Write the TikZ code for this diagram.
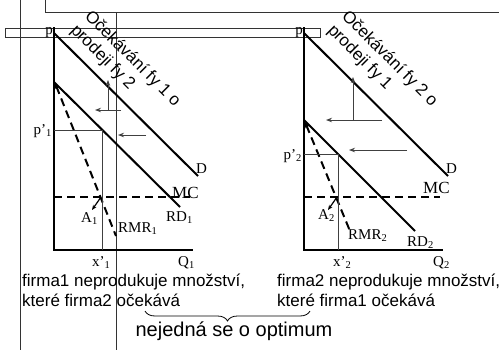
\documentclass[tikz,border=0pt]{standalone}
\usepackage{fontspec}
\setmainfont{Liberation Serif}
\newfontfamily\czsans{Liberation Sans}
\usepackage{tikz}
\usetikzlibrary{arrows.meta}
\usetikzlibrary{decorations.pathreplacing}
\definecolor{arrowgray}{HTML}{404040}
\tikzset{curve/.style={line width=2pt},
dashcurve/.style={line width=2pt,dash pattern=on 8pt off 5pt},
helpline/.style={line width=0.8pt,black!75},
shiftarrow/.style={arrowgray,line width=0.9pt,-{Stealth[length=6pt,width=4.5pt]}},
lab/.style={font=\fontsize{15}{17}\selectfont,inner sep=0pt},
txt/.style={font=\czsans\fontsize{17}{20}\selectfont,inner sep=0pt,align=left},
framelines/.style={line width=0.7pt,black!80}}

\begin{document}
\begin{tikzpicture}[x=1pt,y=-1pt]
\useasboundingbox(0,0)rectangle(499,349);
\draw[framelines](45,-2)rectangle(502,12);
\draw[framelines](5,28)rectangle(320,37);
\draw[framelines](20,-2)--(20,351);
\draw[framelines](116,12)--(116,351);

% firma 1
\coordinate(top1)at(54,27);\coordinate(O1)at(54,250);\coordinate(Q1end)at(193,250);
\coordinate(Da1)at(54,33);\coordinate(Db1)at(198,176);
\coordinate(RDa1)at(54,82);\coordinate(RDb1)at(180,207);
\coordinate(MCa1)at(54,197);\coordinate(MCb1)at(190,197);
\coordinate(RMRa1)at(55,83);\coordinate(RMRb1)at(116,236);
\coordinate(E1)at(101,197);\coordinate(A1end)at(92,210);
\coordinate(pa1)at(54,130);\coordinate(pb1)at(102,130);\coordinate(xa1)at(102,250);
\draw[curve](top1)--(O1)--(Q1end);
\draw[curve](Da1)--(Db1);
\draw[curve](RDa1)--(RDb1);
\draw[dashcurve](MCa1)--(MCb1);
\draw[dashcurve,{Stealth[length=6pt,width=5pt]}-](RMRa1)--(RMRb1);
\draw[line width=1.2pt,-{Stealth[length=5pt,width=4pt]}](E1)--(A1end);
\draw[helpline](pa1)--(pb1)--(xa1);
\coordinate(va1)at(108,110);\coordinate(vb1)at(108,80);
\coordinate(ha1)at(121,110);\coordinate(hb1)at(95,110);
\coordinate(ka1)at(146,135);\coordinate(kb1)at(118,135);
\draw[shiftarrow](va1)--(vb1);
\draw[shiftarrow](ha1)--(hb1);
\draw[shiftarrow](ka1)--(kb1);
\node[lab,anchor=base east](p1)at(53,34){p};
\node[lab,anchor=east](pc1)at(52,131){p'\textsubscript{1}};
\node[lab,anchor=base west](D1)at(196,173){D};
\node[lab,font=\fontsize{17}{19}\selectfont,anchor=base west](MC1)at(172,198){MC};
\node[lab,anchor=base west](RD1)at(166,221){RD\textsubscript{1}};
\node[lab,anchor=base west](A1)at(81,222){A\textsubscript{1}};
\node[lab,anchor=base west](RMR1)at(118,232){RMR\textsubscript{1}};
\node[lab,anchor=base west](x1)at(92,266){x'\textsubscript{1}};
\node[lab,anchor=base west](Q1)at(178,266){Q\textsubscript{1}};
\node[txt,rotate=-45,anchor=north west](oc1)at(93,8){Očekávání fy 1 o\\prodeji fy 2};

% firma 2
\coordinate(top2)at(304,27);\coordinate(O2)at(304,250);\coordinate(Q2end)at(443,250);
\coordinate(Da2)at(304,33);\coordinate(Db2)at(448,176);
\coordinate(RDa2)at(304,120);\coordinate(RDb2)at(415,231);
\coordinate(MCa2)at(304,197);\coordinate(MCb2)at(440,197);
\coordinate(RMRa2)at(305,122);\coordinate(RMRb2)at(350,231);
\coordinate(E2)at(337,197);\coordinate(A2end)at(328,210);
\coordinate(pa2)at(304,154);\coordinate(pb2)at(338,154);\coordinate(xa2)at(338,250);
\draw[curve](top2)--(O2)--(Q2end);
\draw[curve](Da2)--(Db2);
\draw[curve](RDa2)--(RDb2);
\draw[dashcurve](MCa2)--(MCb2);
\draw[dashcurve,{Stealth[length=6pt,width=5pt]}-](RMRa2)--(RMRb2);
\draw[line width=1.2pt,-{Stealth[length=5pt,width=4pt]}](E2)--(A2end);
\draw[helpline](pa2)--(pb2)--(xa2);
\coordinate(va2)at(353,120);\coordinate(vb2)at(353,77);
\coordinate(ha2)at(382,120);\coordinate(hb2)at(326,120);
\coordinate(ka2)at(407,150);\coordinate(kb2)at(349,150);
\draw[shiftarrow](va2)--(vb2);
\draw[shiftarrow](ha2)--(hb2);
\draw[shiftarrow](ka2)--(kb2);
\node[lab,anchor=base east](p2)at(303,34){p};
\node[lab,anchor=east](pc2)at(302,156){p'\textsubscript{2}};
\node[lab,anchor=base west](D2)at(446,173){D};
\node[lab,font=\fontsize{17}{19}\selectfont,anchor=base west](MC2)at(423,193){MC};
\node[lab,anchor=base west](RD2)at(407,246){RD\textsubscript{2}};
\node[lab,anchor=base west](A2)at(318,219){A\textsubscript{2}};
\node[lab,anchor=base west](RMR2)at(348,239){RMR\textsubscript{2}};
\node[lab,anchor=base west](x2)at(333,266){x'\textsubscript{2}};
\node[lab,anchor=base west](Q2)at(433,266){Q\textsubscript{2}};
\node[txt,rotate=-45,anchor=north west](oc2)at(350,8){Očekávání fy 2 o\\prodeji fy 1};

% dole
\node[txt,anchor=north west](f1)at(22,274){firma1 neprodukuje množství,\\které firma2 očekává};
\node[txt,anchor=north west](f2)at(277,274){firma2 neprodukuje množství,\\které firma1 očekává};
\coordinate(brL)at(145,311);\coordinate(brR)at(310,311);
\draw[line width=0.8pt,decoration={brace,amplitude=10pt},decorate](brR)--(brL);
\node[font=\czsans\fontsize{20}{24}\selectfont,inner sep=0pt,anchor=base](opt)at(234,336){nejedná se o optimum};
\end{tikzpicture}
\end{document}
